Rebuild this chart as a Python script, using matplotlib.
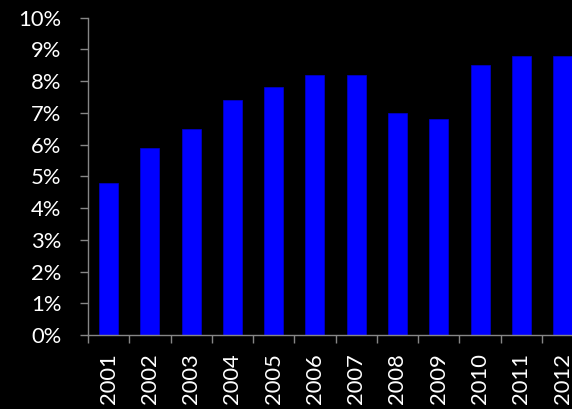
import matplotlib
matplotlib.use("Agg")
import matplotlib.pyplot as plt
from matplotlib.ticker import FixedLocator, FuncFormatter

years = ["2001", "2002", "2003", "2004", "2005", "2006",
         "2007", "2008", "2009", "2010", "2011", "2012"]
rates = [4.8, 5.9, 6.5, 7.4, 7.8, 8.2, 8.2, 7.0, 6.8, 8.5, 8.8, 8.8]
y_ticks = list(range(0, 11))

plt.rcParams["font.family"] = ["Lato", "DejaVu Sans"]

fig = plt.figure(figsize=(5.72, 4.09), dpi=100, facecolor="black")
ax = fig.add_axes([0.1538, 0.1809, 0.8658, 0.7763], facecolor="black")

x = list(range(len(years)))
ax.bar(x, rates, width=0.46, color="#0000FF", edgecolor="#0000D0", linewidth=0.5)

ax.set_xlim(-0.5, len(years) - 0.5)
ax.set_ylim(0, 10)

grey = "#868686"
for side in ("top", "right"):
    ax.spines[side].set_visible(False)
for side in ("left", "bottom"):
    ax.spines[side].set_color(grey)
    ax.spines[side].set_linewidth(1.0)

# y axis: percentage ticks
ax.yaxis.set_major_locator(FixedLocator(y_ticks))
ax.yaxis.set_major_formatter(FuncFormatter(lambda v, p: f"{int(v)}%"))
ax.tick_params(axis="y", which="major", direction="out", length=6, width=1.0,
               color=grey, labelcolor="white", labelsize=15.8, pad=13)

# x axis: ticks on category boundaries, labels centred under bars
ax.xaxis.set_major_locator(FixedLocator([i - 0.5 for i in range(len(years) + 1)]))
ax.xaxis.set_major_formatter(FuncFormatter(lambda v, p: ""))
ax.xaxis.set_minor_locator(FixedLocator(x))
ax.set_xticklabels(years, minor=True, rotation=90)
ax.tick_params(axis="x", which="major", direction="out", length=6, width=1.0, color=grey)
ax.tick_params(axis="x", which="minor", length=0, labelcolor="white",
               labelsize=15.8, pad=13)

fig.savefig("out.png", dpi=100, facecolor="black")
